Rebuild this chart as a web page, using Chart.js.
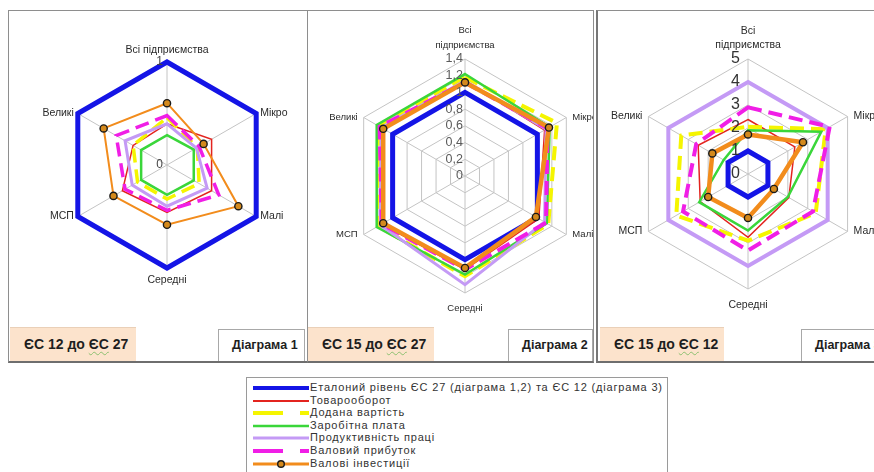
<!DOCTYPE html>
<html lang="uk">
<head>
<meta charset="utf-8">
<title>Радарні діаграми</title>
<script src="https://cdn.jsdelivr.net/npm/chart.js@4"></script>
<style>
  html, body { margin: 0; padding: 0; background: #fff; }
  body { width: 874px; height: 472px; overflow: hidden; position: relative;
         font-family: "Liberation Sans", Arial, sans-serif; }
  .panel { position: absolute; top: 10px; height: 353px; box-sizing: border-box;
           border: 1px solid #8e8e8e; border-bottom: 2px solid #6e6e6e;
           overflow: hidden; background: #fff; }
  .panel canvas { position: absolute; left: 0; top: 0; }
  .tag { position: absolute; bottom: 0; height: 34px; box-sizing: border-box;
         background: #fce3cc; border-top: 1px solid #ead0b8;
         font-weight: bold; font-size: 14px; color: #1e1e1e;
         line-height: 32px; padding-left: 14px; white-space: nowrap; }
  .tag .sp { text-decoration: underline wavy #8cc070; text-decoration-thickness: 1px;
             text-underline-offset: 2px; }
  .name { position: absolute; bottom: 0; height: 32px; box-sizing: border-box;
          background: #fff; border: 1px solid #a8a8a8; border-bottom: none;
          font-weight: bold; font-size: 12.5px; color: #1e1e1e;
          line-height: 31px; padding-left: 13px; white-space: nowrap; }
  #legend { position: absolute; left: 246px; top: 377px; width: 422px; height: 110px;
            box-sizing: border-box; border: 1px solid #9a9a9a; background: #fff; }
  .lrow { position: absolute; left: 6px; height: 12px; white-space: nowrap; }
  .lrow svg { position: absolute; left: 0; top: 1px; }
  .lrow span { position: absolute; left: 57px; top: -1px; font-size: 11px; color: #333;
               letter-spacing: 0.82px; line-height: 13px; }
</style>
</head>
<body>

<div class="panel" id="p1" style="left:8px;width:300px;">
  <canvas id="c1"></canvas>
  <div class="tag" style="left:1px;width:126px;">ЄС 12 до <span class="sp">ЄС</span> 27</div>
  <div class="name" style="left:209px;width:87px;">Діаграма 1</div>
</div>
<div class="panel" id="p2" style="left:307px;width:287px;">
  <canvas id="c2"></canvas>
  <div class="tag" style="left:0px;width:126px;">ЄС 15 до <span class="sp">ЄС</span> 27</div>
  <div class="name" style="left:200px;width:85px;">Діаграма 2</div>
</div>
<div class="panel" id="p3" style="left:596px;width:290px;border-left:2px solid #777;">
  <canvas id="c3"></canvas>
  <div class="tag" style="left:2px;width:124px;">ЄС 15 до <span class="sp">ЄС</span> 12</div>
  <div class="name" style="left:203px;width:100px;">Діаграма 3</div>
</div>

<div id="legend"></div>

<script>
// Осі діаграм
const categories = ['Всі підприємства', 'Мікро', 'Малі', 'Середні', 'МСП', 'Великі'];
const categoriesWrapped = [['Всі', 'підприємства'], 'Мікро', 'Малі', 'Середні', 'МСП', 'Великі'];

// Назви показників
const seriesNames = [
  'Еталоний рівень ЄС 27 (діаграма 1,2) та ЄС 12 (діаграма 3)',
  'Товарооборот',
  'Додана вартість',
  'Заробітна плата',
  'Продуктивність праці',
  'Валовий прибуток',
  'Валові інвестиції'
];

// Підписи шкал
const ticks1 = ['0', '1'];
const ticks2 = ['0', '0,2', '0,4', '0,6', '0,8', '1', '1,2', '1,4'];
const ticks3 = ['0', '1', '2', '3', '4', '5'];

// Діаграма 1: ЄС 12 до ЄС 27
const d1Base         = [1, 1, 1, 1, 1, 1];
const d1Turnover     = [0.40, 0.50, 0.50, 0.46, 0.50, 0.38];
const d1ValueAdded   = [0.46, 0.34, 0.36, 0.33, 0.33, 0.38];
const d1Wages        = [0.29, 0.30, 0.30, 0.29, 0.29, 0.29];
const d1Productivity = [0.40, 0.33, 0.45, 0.40, 0.39, 0.47];
const d1Profit       = [0.48, 0.36, 0.58, 0.44, 0.47, 0.57];
const d1Investment   = [0.60, 0.41, 0.80, 0.58, 0.60, 0.71];

// Діаграма 2: ЄС 15 до ЄС 27
const d2Base         = [1, 1, 1, 1, 1, 1];
const d2Turnover     = [1.14, 1.10, 1.02, 1.12, 1.15, 1.15];
const d2ValueAdded   = [1.18, 1.27, 1.15, 1.20, 1.20, 1.20];
const d2Wages        = [1.22, 1.17, 1.13, 1.18, 1.22, 1.22];
const d2Productivity = [1.14, 1.12, 1.10, 1.30, 1.17, 1.16];
const d2Profit       = [1.12, 1.14, 1.12, 1.12, 1.15, 1.18];
const d2Investment   = [1.12, 1.16, 0.98, 1.10, 1.13, 1.13];

// Діаграма 3: ЄС 15 до ЄС 12
const d3Base         = [1, 1, 1, 1, 1, 1];
const d3Turnover     = [2.37, 2.35, 2.05, 2.75, 2.40, 2.50];
const d3ValueAdded   = [2.05, 3.90, 3.40, 2.90, 3.60, 3.35];
const d3Wages        = [1.90, 3.68, 2.00, 2.46, 2.45, 1.22];
const d3Productivity = [4, 4, 4, 4, 4, 4];
const d3Profit       = [2.90, 4.10, 3.26, 3.33, 3.26, 2.60];
const d3Investment   = [1.72, 2.76, 1.30, 1.91, 2.00, 1.79];

// Оформлення ліній
const colors = ['#1414e6', '#e3241f', '#f5f500', '#3ad63a', '#c49af5', '#f01ee6', '#f28c1c'];
const dashes = [[], [], [14, 7], [], [], [14, 7], []];

// Підписи осей і шкали малюються поверх полотна за позиціями шкали r
const radarText = {
  id: 'radarText',
  afterDraw(chart, _args, o) {
    const s = chart.scales.r;
    const ctx = chart.ctx;
    ctx.save();
    // значення шкали
    ctx.font = o.tickFont;
    ctx.fillStyle = o.tickColor;
    ctx.textAlign = 'right';
    ctx.textBaseline = 'middle';
    o.tickLabels.forEach((t, i) => {
      if (!s.ticks[i]) return;
      const d = s.getDistanceFromCenterForValue(s.ticks[i].value);
      ctx.fillText(t, s.xCenter + o.tickDx, s.yCenter - d);
    });
    // назви осей
    ctx.font = o.labelFont;
    ctx.fillStyle = o.labelColor;
    chart.data.labels.forEach((lab, i) => {
      const lines = Array.isArray(lab) ? lab : [lab];
      const p = s.getPointPosition(i, s.drawingArea);
      const c = Math.cos(p.angle);
      const sn = Math.sin(p.angle);
      if (Math.abs(c) < 0.1) {
        ctx.textAlign = 'center';
        if (sn < 0) {
          lines.slice().reverse().forEach((ln, k) => {
            ctx.fillText(ln, p.x, p.y - o.topGap - k * o.lineH);
          });
        } else {
          lines.forEach((ln, k) => {
            ctx.fillText(ln, p.x, p.y + o.bottomGap + k * o.lineH);
          });
        }
      } else {
        ctx.textAlign = c > 0 ? 'left' : 'right';
        const x = p.x + (c > 0 ? o.sideGap : -o.sideGap);
        lines.forEach((ln, k) => {
          ctx.fillText(ln, x, p.y + (k - (lines.length - 1) / 2) * o.lineH);
        });
      }
    });
    ctx.restore();
  }
};

function buildSets(values, widths) {
  return values.map((v, k) => ({
    label: seriesNames[k],
    data: v,
    borderColor: colors[k],
    backgroundColor: colors[k],
    borderWidth: widths[k],
    borderDash: dashes[k],
    borderCapStyle: 'butt',
    borderJoinStyle: 'miter',
    fill: false,
    pointRadius: k === 6 ? 3.6 : 0,
    pointBackgroundColor: '#d4891c',
    pointBorderColor: '#1a1a1a',
    pointBorderWidth: 1.4,
    order: values.length - k,
    clip: false
  }));
}

function makeRadar(id, panelId, cx, cy, R, labels, values, widths, maxV, step, text) {
  const panel = document.getElementById(panelId);
  const W = panel.clientWidth;
  const H = panel.clientHeight;
  const cv = document.getElementById(id);
  cv.width = W;
  cv.height = H;
  cv.style.width = W + 'px';
  cv.style.height = H + 'px';
  return new Chart(cv, {
    type: 'radar',
    data: { labels: labels, datasets: buildSets(values, widths) },
    options: {
      responsive: false,
      animation: false,
      devicePixelRatio: 1,
      events: [],
      layout: { padding: { left: cx - R, top: cy - R, right: W - cx - R, bottom: H - cy - R } },
      plugins: { legend: { display: false }, tooltip: { enabled: false }, radarText: text },
      scales: {
        r: {
          min: 0,
          max: maxV,
          ticks: { display: false, stepSize: step },
          grid: { color: '#c4c4c4', lineWidth: 1 },
          angleLines: { color: '#c4c4c4', lineWidth: 1 },
          pointLabels: { display: false }
        }
      }
    },
    plugins: [radarText]
  });
}

const labelFont = '10.5px "Liberation Sans", Arial, sans-serif';

makeRadar('c1', 'p1', 158, 154, 103, categories,
  [d1Base, d1Turnover, d1ValueAdded, d1Wages, d1Productivity, d1Profit, d1Investment],
  [5, 1.5, 3.5, 2.5, 3, 3.5, 2], 1, 1,
  { tickLabels: ticks1, tickFont: '12px "Liberation Sans", Arial, sans-serif', tickColor: '#444', tickDx: -4,
    labelFont: labelFont, labelColor: '#2a2a2a', topGap: 12, bottomGap: 12, sideGap: 4, lineH: 14 });

makeRadar('c2', 'p2', 157, 165, 117, categoriesWrapped,
  [d2Base, d2Turnover, d2ValueAdded, d2Wages, d2Productivity, d2Profit, d2Investment],
  [5, 1.5, 4, 2.5, 3, 4, 4.5], 1.4, 0.2,
  { tickLabels: ticks2, tickFont: '12.5px "Liberation Sans", Arial, sans-serif', tickColor: '#5a5a5a', tickDx: -2,
    labelFont: '9.5px "Liberation Sans", Arial, sans-serif', labelColor: '#2a2a2a',
    topGap: 14, bottomGap: 15, sideGap: 6, lineH: 15 });

makeRadar('c3', 'p3', 150, 163, 115, categoriesWrapped,
  [d3Base, d3Turnover, d3ValueAdded, d3Wages, d3Productivity, d3Profit, d3Investment],
  [5, 1.5, 4, 2.5, 4, 4, 4.5], 5, 1,
  { tickLabels: ticks3, tickFont: '16px "Liberation Sans", Arial, sans-serif', tickColor: '#333', tickDx: -8,
    labelFont: labelFont, labelColor: '#2a2a2a', topGap: 14, bottomGap: 16, sideGap: 6, lineH: 14 });

// Легенда зі зразками ліній
const legendWidths = [4, 2, 4, 2.5, 3, 4, 3];
const legendDash = ['', '', '30 17', '', '', '30 17', ''];
const legend = document.getElementById('legend');
seriesNames.forEach((name, k) => {
  const row = document.createElement('div');
  row.className = 'lrow';
  row.style.top = (4 + k * 12.6) + 'px';
  const marker = k === 6
    ? '<circle cx="28" cy="5" r="3.3" fill="#d4891c" stroke="#1a1a1a" stroke-width="1.4"/>' : '';
  row.innerHTML =
    '<svg width="56" height="10"><line x1="0" y1="5" x2="56" y2="5" stroke="' + colors[k] +
    '" stroke-width="' + legendWidths[k] + '"' +
    (legendDash[k] ? ' stroke-dasharray="' + legendDash[k] + '"' : '') + '/>' + marker + '</svg>' +
    '<span>' + name + '</span>';
  legend.appendChild(row);
});
</script>
</body>
</html>
